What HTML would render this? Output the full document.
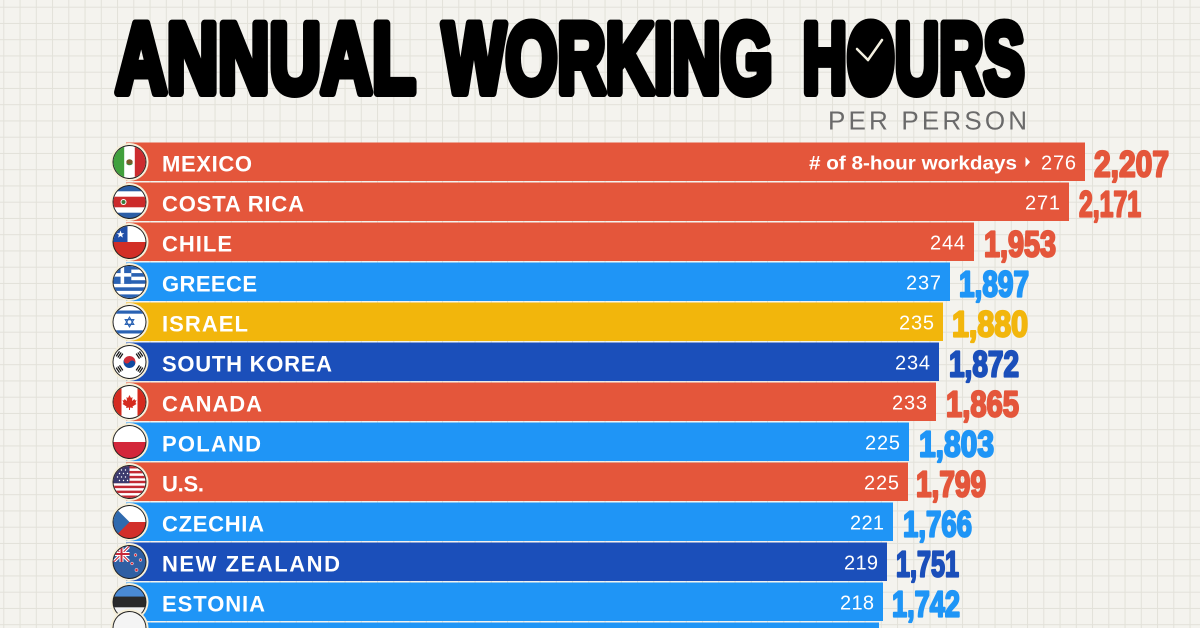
<!DOCTYPE html>
<html><head><meta charset="utf-8"><style>
html,body{margin:0;padding:0;background:#f4f3ee;overflow:hidden;width:1200px;height:628px;}
svg{display:block;}
</style></head><body>
<svg width="1200" height="628" viewBox="0 0 1200 628" xmlns="http://www.w3.org/2000/svg" font-family="'Liberation Sans', sans-serif" overflow="hidden">
<defs>
<pattern id="grid" x="3.3" y="6.7" width="16.25" height="16.25" patternUnits="userSpaceOnUse">
<path d="M0 0.5H16.25M0.5 0V16.25" stroke="#e2e1d9" stroke-width="1" fill="none"/>
</pattern>
<clipPath id="c"><circle cx="0" cy="0" r="16"/></clipPath>
<clipPath id="uj"><rect x="-16" y="-16" width="16" height="16"/></clipPath>
<clipPath id="frame"><rect x="0" y="0" width="1200" height="628"/></clipPath>
</defs>
<rect width="1200" height="628" fill="#f4f3ee"/>
<rect width="1200" height="628" fill="url(#grid)"/>

<!-- Title -->
<g fill="#000" stroke="#000" stroke-width="9" stroke-linejoin="round" font-weight="bold" font-size="99">
<text x="115.5" y="92.5" textLength="300" lengthAdjust="spacingAndGlyphs">ANNUAL</text>
<text x="442.5" y="92.5" textLength="330" lengthAdjust="spacingAndGlyphs">WORKING</text>
<text x="802.5" y="92.5" textLength="222" lengthAdjust="spacingAndGlyphs">HOURS</text>
</g>
<ellipse cx="868" cy="57" rx="18" ry="32" fill="#000"/>
<line x1="868" y1="60" x2="857" y2="49" stroke="#f3f0e0" stroke-width="2.5" stroke-linecap="round"/>
<line x1="868" y1="60" x2="882" y2="40" stroke="#f3f0e0" stroke-width="2.5" stroke-linecap="round"/>
<text x="828" y="129.5" font-size="26" fill="#6a6a6a" textLength="199" lengthAdjust="spacing">PER PERSON</text>

<!-- Bars -->
<g>
<rect x="126" y="142.5" width="959" height="38.5" fill="#e4563b"/>
<rect x="126" y="182.5" width="943" height="38.5" fill="#e4563b"/>
<rect x="126" y="222.5" width="848" height="38.5" fill="#e4563b"/>
<rect x="126" y="262.5" width="824" height="38.5" fill="#1f95f6"/>
<rect x="126" y="302.5" width="817" height="38.5" fill="#f2b60c"/>
<rect x="126" y="342.5" width="813" height="38.5" fill="#1b4fba"/>
<rect x="126" y="382.5" width="810" height="38.5" fill="#e4563b"/>
<rect x="126" y="422.5" width="783" height="38.5" fill="#1f95f6"/>
<rect x="126" y="462.5" width="782" height="38.5" fill="#e4563b"/>
<rect x="126" y="502.5" width="767" height="38.5" fill="#1f95f6"/>
<rect x="126" y="542.5" width="761" height="38.5" fill="#1b4fba"/>
<rect x="126" y="582.5" width="757" height="38.5" fill="#1f95f6"/>
<rect x="126" y="622.5" width="753" height="5.5" fill="#1f95f6"/>
</g>

<!-- Country names -->
<g fill="#fff" font-weight="bold" font-size="22">
<text x="162" y="171.5" textLength="90" lengthAdjust="spacing">MEXICO</text>
<text x="162" y="211.5" textLength="142" lengthAdjust="spacing">COSTA RICA</text>
<text x="162" y="251.5" textLength="70" lengthAdjust="spacing">CHILE</text>
<text x="162" y="291.5" textLength="95" lengthAdjust="spacing">GREECE</text>
<text x="162" y="331.5" textLength="86" lengthAdjust="spacing">ISRAEL</text>
<text x="162" y="371.5" textLength="170" lengthAdjust="spacing">SOUTH KOREA</text>
<text x="162" y="411.5" textLength="100" lengthAdjust="spacing">CANADA</text>
<text x="162" y="451.5" textLength="99" lengthAdjust="spacing">POLAND</text>
<text x="162" y="491.5" textLength="42" lengthAdjust="spacing">U.S.</text>
<text x="162" y="531.5" textLength="102" lengthAdjust="spacing">CZECHIA</text>
<text x="162" y="571.5" textLength="178" lengthAdjust="spacing">NEW ZEALAND</text>
<text x="162" y="611.5" textLength="103" lengthAdjust="spacing">ESTONIA</text>
</g>

<!-- Day counts -->
<g fill="#fff" font-size="20" text-anchor="end">
<text x="1076" y="169.3" textLength="35" lengthAdjust="spacing">276</text>
<text x="1060" y="209.3" textLength="35" lengthAdjust="spacing">271</text>
<text x="965" y="249.3" textLength="35" lengthAdjust="spacing">244</text>
<text x="941" y="289.3" textLength="35" lengthAdjust="spacing">237</text>
<text x="934" y="329.3" textLength="35" lengthAdjust="spacing">235</text>
<text x="930" y="369.3" textLength="35" lengthAdjust="spacing">234</text>
<text x="927" y="409.3" textLength="35" lengthAdjust="spacing">233</text>
<text x="900" y="449.3" textLength="35" lengthAdjust="spacing">225</text>
<text x="899" y="489.3" textLength="35" lengthAdjust="spacing">225</text>
<text x="884" y="529.3" textLength="34" lengthAdjust="spacing">221</text>
<text x="878" y="569.3" textLength="34" lengthAdjust="spacing">219</text>
<text x="874" y="609.3" textLength="34" lengthAdjust="spacing">218</text>
</g>
<text x="809" y="169.3" fill="#fff" font-weight="bold" font-size="19" textLength="208" lengthAdjust="spacingAndGlyphs"># of 8-hour workdays</text>
<polygon points="1025.5,157 1030,162 1025.5,167" fill="#fff"/>

<!-- Values -->
<g font-weight="bold" font-size="36" stroke-width="2.2" stroke-linejoin="round">
<text x="1094" y="176.5" fill="#e4563b" stroke="#e4563b" textLength="75" lengthAdjust="spacingAndGlyphs">2,207</text>
<text x="1079" y="216.5" fill="#e4563b" stroke="#e4563b" textLength="62" lengthAdjust="spacingAndGlyphs">2,171</text>
<text x="984" y="256.5" fill="#e4563b" stroke="#e4563b" textLength="72" lengthAdjust="spacingAndGlyphs">1,953</text>
<text x="959" y="296.5" fill="#1f95f6" stroke="#1f95f6" textLength="70" lengthAdjust="spacingAndGlyphs">1,897</text>
<text x="952" y="336.5" fill="#f2b60c" stroke="#f2b60c" textLength="76" lengthAdjust="spacingAndGlyphs">1,880</text>
<text x="949" y="376.5" fill="#1b4fba" stroke="#1b4fba" textLength="70" lengthAdjust="spacingAndGlyphs">1,872</text>
<text x="946" y="416.5" fill="#e4563b" stroke="#e4563b" textLength="73" lengthAdjust="spacingAndGlyphs">1,865</text>
<text x="919" y="456.5" fill="#1f95f6" stroke="#1f95f6" textLength="75" lengthAdjust="spacingAndGlyphs">1,803</text>
<text x="916" y="496.5" fill="#e4563b" stroke="#e4563b" textLength="70" lengthAdjust="spacingAndGlyphs">1,799</text>
<text x="903" y="536.5" fill="#1f95f6" stroke="#1f95f6" textLength="69" lengthAdjust="spacingAndGlyphs">1,766</text>
<text x="896" y="576.5" fill="#1b4fba" stroke="#1b4fba" textLength="63" lengthAdjust="spacingAndGlyphs">1,751</text>
<text x="892" y="616.5" fill="#1f95f6" stroke="#1f95f6" textLength="68" lengthAdjust="spacingAndGlyphs">1,742</text>
</g>

<!-- Flags -->
<!-- Mexico -->
<g transform="translate(129.5,162)">
<circle r="19" fill="#f6efd9"/><circle r="17" fill="#222"/>
<g clip-path="url(#c)">
<rect x="-16" y="-16" width="32" height="32" fill="#fff"/>
<rect x="-16" y="-16" width="10.7" height="32" fill="#41a03c"/>
<rect x="5.3" y="-16" width="10.7" height="32" fill="#cc2c2f"/>
<ellipse cx="0" cy="0" rx="3.2" ry="2.8" fill="#7a5a2a"/>
<path d="M-3 1.5 Q0 4 3 1.5" stroke="#3a8a3a" stroke-width="1" fill="none"/>
</g></g>
<!-- Costa Rica -->
<g transform="translate(129.5,202)">
<circle r="19" fill="#f6efd9"/><circle r="17" fill="#222"/>
<g clip-path="url(#c)">
<rect x="-16" y="-16" width="32" height="32" fill="#2b5ea6"/>
<rect x="-16" y="-10.7" width="32" height="21.4" fill="#fff"/>
<rect x="-16" y="-5.3" width="32" height="10.6" fill="#cc2b2b"/>
<circle cx="-6" cy="0" r="3" fill="#fff"/><circle cx="-6" cy="0" r="2" fill="#3b7a3b"/>
</g></g>
<!-- Chile -->
<g transform="translate(129.5,242)">
<circle r="19" fill="#f6efd9"/><circle r="17" fill="#222"/>
<g clip-path="url(#c)">
<rect x="-16" y="-16" width="32" height="16" fill="#fff"/>
<rect x="-16" y="0" width="32" height="16" fill="#d22f26"/>
<rect x="-16" y="-16" width="14" height="16" fill="#1f4fa8"/>
<polygon points="-9,-11.5 -8,-8.8 -5.2,-8.8 -7.4,-7.1 -6.6,-4.4 -9,-6 -11.4,-4.4 -10.6,-7.1 -12.8,-8.8 -10,-8.8" fill="#fff"/>
</g></g>
<!-- Greece -->
<g transform="translate(129.5,282)">
<circle r="19" fill="#f6efd9"/><circle r="17" fill="#222"/>
<g clip-path="url(#c)">
<rect x="-16" y="-16" width="32" height="32" fill="#fff"/>
<rect x="-16" y="-16" width="32" height="3.56" fill="#2a62b3"/>
<rect x="-16" y="-8.9" width="32" height="3.56" fill="#2a62b3"/>
<rect x="-16" y="-1.8" width="32" height="3.56" fill="#2a62b3"/>
<rect x="-16" y="5.3" width="32" height="3.56" fill="#2a62b3"/>
<rect x="-16" y="12.4" width="32" height="3.6" fill="#2a62b3"/>
<rect x="-16" y="-16" width="17.8" height="17.8" fill="#2a62b3"/>
<rect x="-16" y="-8.9" width="17.8" height="3.56" fill="#fff"/>
<rect x="-8.9" y="-16" width="3.56" height="17.8" fill="#fff"/>
</g></g>
<!-- Israel -->
<g transform="translate(129.5,322)">
<circle r="19" fill="#f6efd9"/><circle r="17" fill="#222"/>
<g clip-path="url(#c)">
<rect x="-16" y="-16" width="32" height="32" fill="#fff"/>
<rect x="-16" y="-11.5" width="32" height="3.2" fill="#2a62b3"/>
<rect x="-16" y="8.3" width="32" height="3.2" fill="#2a62b3"/>
<polygon points="0,-4.8 4.2,2.4 -4.2,2.4" fill="none" stroke="#2a62b3" stroke-width="1.2"/>
<polygon points="0,4.8 4.2,-2.4 -4.2,-2.4" fill="none" stroke="#2a62b3" stroke-width="1.2"/>
</g></g>
<!-- South Korea -->
<g transform="translate(129.5,362)">
<circle r="19" fill="#f6efd9"/><circle r="17" fill="#222"/>
<g clip-path="url(#c)">
<rect x="-16" y="-16" width="32" height="32" fill="#fff"/>
<g transform="rotate(30)">
<path d="M-6,0 A6,6 0 0 1 6,0 Z" fill="#cd2e3a"/>
<path d="M-6,0 A6,6 0 0 0 6,0 Z" fill="#0f4aa0"/>
<circle cx="-3" cy="0" r="3" fill="#cd2e3a"/>
<circle cx="3" cy="0" r="3" fill="#0f4aa0"/>
</g>
<g fill="#111">
<g transform="translate(-10,-7) rotate(-56)"><rect x="-3" y="-2.6" width="6" height="1.2"/><rect x="-3" y="-0.6" width="6" height="1.2"/><rect x="-3" y="1.4" width="6" height="1.2"/></g>
<g transform="translate(10,-7) rotate(56)"><rect x="-3" y="-2.6" width="6" height="1.2"/><rect x="-3" y="-0.6" width="6" height="1.2"/><rect x="-3" y="1.4" width="6" height="1.2"/></g>
<g transform="translate(-10,7) rotate(56)"><rect x="-3" y="-2.6" width="6" height="1.2"/><rect x="-3" y="-0.6" width="6" height="1.2"/><rect x="-3" y="1.4" width="6" height="1.2"/></g>
<g transform="translate(10,7) rotate(-56)"><rect x="-3" y="-2.6" width="6" height="1.2"/><rect x="-3" y="-0.6" width="6" height="1.2"/><rect x="-3" y="1.4" width="6" height="1.2"/></g>
</g>
</g></g>
<!-- Canada -->
<g transform="translate(129.5,402)">
<circle r="19" fill="#f6efd9"/><circle r="17" fill="#222"/>
<g clip-path="url(#c)">
<rect x="-16" y="-16" width="32" height="32" fill="#fff"/>
<rect x="-16" y="-16" width="8" height="32" fill="#d52b1e"/>
<rect x="8" y="-16" width="8" height="32" fill="#d52b1e"/>
<polygon points="0,-7 1.5,-4 3,-5 2.5,-1 5,-3 5.5,-1.5 7,-2 6,1 7,2 3,4.5 3.5,6 0.5,5.5 0.5,8 -0.5,8 -0.5,5.5 -3.5,6 -3,4.5 -7,2 -6,1 -7,-2 -5.5,-1.5 -5,-3 -2.5,-1 -3,-5 -1.5,-4" fill="#d52b1e"/>
</g></g>
<!-- Poland -->
<g transform="translate(129.5,442)">
<circle r="19" fill="#f6efd9"/><circle r="17" fill="#222"/>
<g clip-path="url(#c)">
<rect x="-16" y="-16" width="32" height="16" fill="#fff"/>
<rect x="-16" y="0" width="32" height="16" fill="#d3273a"/>
</g></g>
<!-- US -->
<g transform="translate(129.5,482)">
<circle r="19" fill="#f6efd9"/><circle r="17" fill="#222"/>
<g clip-path="url(#c)">
<rect x="-16" y="-16" width="32" height="32" fill="#fff"/>
<g fill="#c22a33">
<rect x="-16" y="-16" width="32" height="2.46"/><rect x="-16" y="-11.08" width="32" height="2.46"/>
<rect x="-16" y="-6.16" width="32" height="2.46"/><rect x="-16" y="-1.24" width="32" height="2.46"/>
<rect x="-16" y="3.68" width="32" height="2.46"/><rect x="-16" y="8.6" width="32" height="2.46"/>
<rect x="-16" y="13.52" width="32" height="2.48"/>
</g>
<rect x="-16" y="-16" width="16" height="17.2" fill="#3c3b6e"/>
<g fill="#fff">
<circle cx="-12" cy="-12" r="0.7"/><circle cx="-8" cy="-12" r="0.7"/><circle cx="-4" cy="-12" r="0.7"/>
<circle cx="-10" cy="-8.5" r="0.7"/><circle cx="-6" cy="-8.5" r="0.7"/><circle cx="-2" cy="-8.5" r="0.7"/>
<circle cx="-12" cy="-5" r="0.7"/><circle cx="-8" cy="-5" r="0.7"/><circle cx="-4" cy="-5" r="0.7"/>
<circle cx="-10" cy="-1.5" r="0.7"/><circle cx="-6" cy="-1.5" r="0.7"/><circle cx="-2" cy="-1.5" r="0.7"/>
</g>
</g></g>
<!-- Czechia -->
<g transform="translate(129.5,522)">
<circle r="19" fill="#f6efd9"/><circle r="17" fill="#222"/>
<g clip-path="url(#c)">
<rect x="-16" y="-16" width="32" height="16" fill="#fff"/>
<rect x="-16" y="0" width="32" height="16" fill="#d22f2a"/>
<polygon points="-16,-16 0,0 -16,16" fill="#2f6aae"/>
</g></g>
<!-- New Zealand -->
<g transform="translate(129.5,562)">
<circle r="19" fill="#f6efd9"/><circle r="17" fill="#222"/>
<g clip-path="url(#c)">
<rect x="-16" y="-16" width="32" height="32" fill="#2f5fa3"/>
<g clip-path="url(#uj)">
<path d="M-16,-16 L0,0 M0,-16 L-16,0" stroke="#fff" stroke-width="3.2"/>
<path d="M-16,-16 L0,0 M0,-16 L-16,0" stroke="#c8283a" stroke-width="1.1"/>
<path d="M-8,-16 V0 M-16,-8 H0" stroke="#fff" stroke-width="4"/>
<path d="M-8,-16 V0 M-16,-8 H0" stroke="#c8283a" stroke-width="2"/>
</g>
<g fill="#d2283a" stroke="#fff" stroke-width="0.5">
<circle cx="6" cy="-7" r="1.4"/><circle cx="11" cy="-2" r="1.4"/><circle cx="2.5" cy="1.5" r="1.4"/><circle cx="7" cy="8" r="1.6"/>
</g>
</g></g>
<!-- Estonia -->
<g transform="translate(129.5,602)">
<circle r="19" fill="#f6efd9"/><circle r="17" fill="#222"/>
<g clip-path="url(#c)">
<rect x="-16" y="-16" width="32" height="10.7" fill="#4a8ad4"/>
<rect x="-16" y="-5.3" width="32" height="10.6" fill="#2a2a2a"/>
<rect x="-16" y="5.3" width="32" height="10.7" fill="#f2f2f2"/>
</g></g>
<!-- Next (partially visible) -->
<g clip-path="url(#frame)">
<path d="M110.5,628 A19,19 0 0 1 148.5,628 Z" fill="#f6efd9"/>
<path d="M112.5,628 A17,17 0 0 1 146.5,628 Z" fill="#222"/>
<path d="M113.5,628 A16,16 0 0 1 145.5,628 Z" fill="#f4f4f4"/>
</g>
</svg>
</body></html>
